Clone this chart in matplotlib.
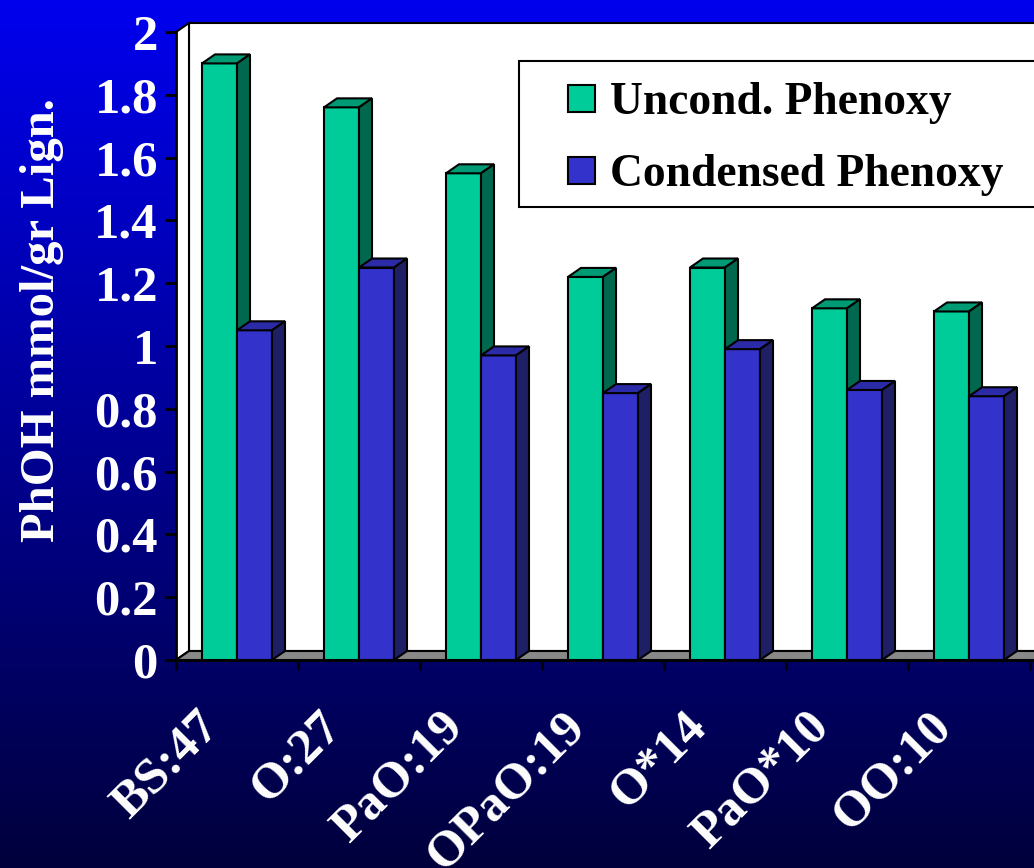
import numpy as np
import matplotlib.pyplot as plt
from matplotlib.colors import LinearSegmentedColormap
from matplotlib.patches import Polygon, Rectangle
from matplotlib.transforms import ScaledTranslation


# data
categories = ["BS:47", "O:27", "PaO:19", "OPaO:19", "O*14", "PaO*10", "OO:10"]
uncond = [1.90, 1.76, 1.55, 1.22, 1.25, 1.12, 1.11]
condensed = [1.05, 1.25, 0.97, 0.85, 0.99, 0.86, 0.84]
series_names = ["Uncond. Phenoxy", "Condensed Phenoxy"]
y_ticks = [0, 0.2, 0.4, 0.6, 0.8, 1.0, 1.2, 1.4, 1.6, 1.8, 2.0]

# colours: front, top, side
green = ("#00CC99", "#009A74", "#00684E")
blue = ("#3333CC", "#2B2BA8", "#1F1F66")

font = "Liberation Serif"
fs_legend = 32.8
fs_axis = 36.5
fs_label = 35

W, H = 1034, 868
fig = plt.figure(figsize=(W / 100, H / 100), dpi=100)

# blue gradient background
bg = fig.add_axes([0, 0, 1, 1], zorder=0)
cmap = LinearSegmentedColormap.from_list("bg", [(0, 0, 60 / 255), (0, 0, 238 / 255)])
bg.imshow(np.linspace(0, 1, 256)[:, None], cmap=cmap, aspect="auto",
          origin="lower", extent=[0, 1, 0, 1])
bg.axis("off")

# main axes, placed in pixels
x0_px, y0_px = 176, 660
px_per_cat, px_per_unit = 122, 314
xmax = (W - x0_px) / px_per_cat
ymax = 2.035
ax = fig.add_axes([x0_px / W, (H - y0_px) / H, (W - x0_px) / W,
                   ymax * px_per_unit / H], zorder=1)
ax.set_facecolor("none")
ax.set_xlim(0, xmax)
ax.set_ylim(0, ymax)

# depth of the fake 3d
dx = 13 / px_per_cat
dy = 9 / px_per_unit
bw = 35 / px_per_cat

# walls and floor
ax.add_patch(Polygon([(dx, dy), (xmax + 1, dy), (xmax + 1, 2 + dy), (dx, 2 + dy)],
                     closed=True, fc="white", ec="black", lw=1.5, zorder=1))
ax.add_patch(Polygon([(0, 0), (dx, dy), (dx, 2 + dy), (0, 2)],
                     closed=True, fc="white", ec="black", lw=1.5, zorder=1))
ax.add_patch(Polygon([(0, 0), (xmax + 1, 0), (xmax + 1 + dx, dy), (dx, dy)],
                     closed=True, fc="#888888", ec="black", lw=1.5, zorder=1))


def bar3d(x, h, cols, z):
    front, top, side = cols
    ax.add_patch(Rectangle((x, 0), bw, h, fc=front, ec="black", lw=1.5, zorder=z))
    ax.add_patch(Polygon([(x, h), (x + bw, h), (x + bw + dx, h + dy), (x + dx, h + dy)],
                         closed=True, fc=top, ec="black", lw=1.5, zorder=z))
    ax.add_patch(Polygon([(x + bw, 0), (x + bw + dx, dy), (x + bw + dx, h + dy), (x + bw, h)],
                         closed=True, fc=side, ec="black", lw=1.5, zorder=z))


for i in range(len(categories)):
    c = i + 0.5
    bar3d(c - bw, uncond[i], green, 2 + 2 * i)
    bar3d(c, condensed[i], blue, 3 + 2 * i)

# axes lines and ticks
for s in ["top", "right"]:
    ax.spines[s].set_visible(False)
ax.spines["left"].set_bounds(0, 2)
ax.spines["left"].set_linewidth(2)
ax.spines["bottom"].set_linewidth(2)
ax.spines["left"].set_zorder(30)
ax.spines["bottom"].set_zorder(30)

ax.set_yticks(y_ticks)
ax.set_yticklabels([f"{v:g}" for v in y_ticks])
ax.tick_params(axis="y", direction="out", length=8, width=2, pad=5,
               labelsize=fs_axis, labelcolor="white")
ax.set_xticks(range(len(categories) + 1))
ax.set_xticklabels([])
ax.set_xticks([i + 0.5 for i in range(len(categories))], minor=True)
ax.set_xticklabels(categories, minor=True, rotation=45, ha="right", va="center",
                   rotation_mode="anchor")
ax.tick_params(axis="x", which="major", direction="out", length=7, width=2)
ax.tick_params(axis="x", which="minor", length=0, pad=43,
               labelsize=fs_axis, labelcolor="white")
for lab in ax.get_yticklabels() + ax.get_xticklabels(minor=True):
    lab.set_fontfamily(font)
    lab.set_fontweight("bold")
shift = ScaledTranslation(-25 / 100, 0, fig.dpi_scale_trans)
for lab in ax.get_xticklabels(minor=True):
    lab.set_transform(lab.get_transform() + shift)

# y label
fig.text(42 / W, 1 - 320 / H, "PhOH mmol/gr Lign.", rotation=90, ha="center",
         va="center", color="white", fontsize=fs_label, fontfamily=font,
         fontweight="bold")

# legend box, runs off the right edge like the original
leg = fig.add_axes([0, 0, 1, 1], zorder=5)
leg.set_xlim(0, W)
leg.set_ylim(H, 0)
leg.axis("off")
leg.add_patch(Rectangle((519, 61), 600, 146, fc="white", ec="black", lw=1.5))
for j, (name, col) in enumerate(zip(series_names, [green, blue])):
    yc = 98 + 72 * j
    leg.add_patch(Rectangle((568, yc - 13.5), 27, 27, fc=col[0], ec="black", lw=1.5))
    leg.text(610, yc, name, ha="left", va="center_baseline", fontsize=fs_legend,
             fontfamily=font, fontweight="bold", color="black")

fig.savefig("out.png", dpi=100)
